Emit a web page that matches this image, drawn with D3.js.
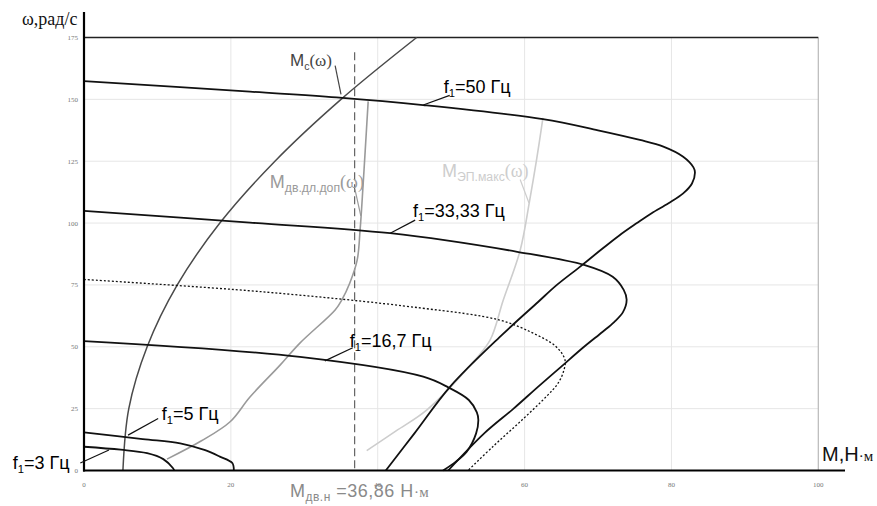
<!DOCTYPE html>
<html>
<head>
<meta charset="utf-8">
<script src="https://cdn.jsdelivr.net/npm/d3@7"></script>
<style>
  body { margin: 0; background: #fff; }
  svg { display: block; }
</style>
</head>
<body>
<svg id="chart" width="877" height="506"></svg>
<script>
// Tick values of both axes
const xTicks = [0, 20, 40, 60, 80, 100];
const yTicks = [0, 25, 50, 75, 100, 125, 150, 175];

// Mechanical characteristics of the motor, points as [M (N·m), ω (rad/s)]
const char50 = [[0,157.4],[22.6,153.1],[34.4,150.8],[46.2,147.7],[62.5,142],[70,137.5],[75.7,133.6],[78.9,130.9],[81.6,126.8],[83,122.5],[83.2,120.5],[82.8,116],[81.6,112],[79.6,108],[77.3,104],[75.3,100],[72.9,95],[69.9,88],[67.4,82],[64.4,75],[61.8,68],[57,55],[49.9,34],[45,15],[41.1,0]];
const char33 = [[0,104.9],[22.6,100.2],[41.7,95.9],[59,88.4],[68.2,83],[72,78.3],[73.5,73],[73.9,69],[73.4,64],[72.2,60],[70.6,56],[68.1,50],[65,42],[61.9,34],[58.5,25],[54.5,15],[49.6,0]];
const char25 = [[0,77.2],[24,72.3],[45.8,65.7],[56.6,60.8],[61.1,55.6],[64.3,50],[65.5,44.7],[65.3,40],[64.5,35],[63,30],[59.5,20],[55.8,10],[52.3,0]];
const char167 = [[0,52.3],[29.4,45.9],[46.2,37.9],[49.6,33.6],[52.4,28.5],[53.5,23.5],[53.7,20.5],[53.4,15],[52.1,7.5],[50.6,3.5],[48.9,0]];
const char5 = [[0,15.4],[8,12.7],[13.1,11],[16.5,8.2],[18.5,5.6],[20.2,3],[20.4,0]];
const char3 = [[0,9.6],[5,8.4],[8.6,7],[10.8,4.6],[12.1,1],[12.3,0]];

// Load torque Mc(ω)
const loadCurve = [[5.3,0],[6.1,25],[8.6,50],[12.7,75],[18.5,100],[26,125],[35,150],[45.3,175]];
// Permissible long-term motor torque Mдв.дл.доп(ω)
const motorPermissible = [[11.3,4.6],[16,12],[19.9,19.7],[22.6,29.7],[26.7,42.6],[29.4,51.5],[34.2,64.9],[35.1,68.9],[36.2,75.8],[37.2,85],[37.6,97.2],[38,115],[38.3,129.5],[38.7,149.2]];
// Maximum drive torque MЭП.макс(ω)
const driveMax = [[38.5,8],[42.5,16],[46.7,24.5],[53,43.9],[55.3,52.7],[57.1,68.9],[59.4,89],[60.7,109.3],[61.6,125],[62.5,142.5]];

// Rated motor torque
const ratedTorque = 36.86;

const svg = d3.select("#chart");
const x = d3.scaleLinear().domain([0, 100]).range([84, 818.3]);
const y = d3.scaleLinear().domain([0, 175]).range([470.5, 37.5]);

// Grid
svg.append("g").selectAll("line").data(xTicks.slice(1, -1)).join("line")
  .attr("x1", d => x(d)).attr("x2", d => x(d))
  .attr("y1", y(175)).attr("y2", y(0))
  .attr("stroke", "#e6e6e6").attr("stroke-width", 1);
svg.append("g").selectAll("line").data(yTicks.slice(1, -1)).join("line")
  .attr("x1", x(0)).attr("x2", x(100))
  .attr("y1", d => y(d)).attr("y2", d => y(d))
  .attr("stroke", "#e6e6e6").attr("stroke-width", 1);

// Frame: right edge and top edge
svg.append("line").attr("x1", x(100)).attr("x2", x(100)).attr("y1", y(175)).attr("y2", y(0))
  .attr("stroke", "#b8b8b8").attr("stroke-width", 1.2);
svg.append("line").attr("x1", x(0)).attr("x2", x(100)).attr("y1", y(175)).attr("y2", y(175))
  .attr("stroke", "#222").attr("stroke-width", 1.3);

// Tick labels
svg.append("g").selectAll("text").data(xTicks).join("text")
  .attr("x", d => x(d)).attr("y", 487)
  .attr("text-anchor", "middle")
  .attr("font-family", "Liberation Serif, serif").attr("font-size", 7).attr("fill", "#777")
  .text(d => d);
svg.append("g").selectAll("text").data(yTicks).join("text")
  .attr("x", 78).attr("y", d => y(d) + 2.5)
  .attr("text-anchor", "end")
  .attr("font-family", "Liberation Serif, serif").attr("font-size", 7).attr("fill", "#777")
  .text(d => d);

const line = d3.line().x(d => x(d[0])).y(d => y(d[1])).curve(d3.curveCatmullRom.alpha(0.5));

// Rated torque marker
svg.append("line")
  .attr("x1", x(ratedTorque)).attr("x2", x(ratedTorque))
  .attr("y1", y(169)).attr("y2", y(0))
  .attr("stroke", "#555").attr("stroke-width", 1.1).attr("stroke-dasharray", "8,4");

// Auxiliary curves
svg.append("path").attr("d", line(driveMax)).attr("fill", "none")
  .attr("stroke", "#cdcdcd").attr("stroke-width", 1.6);
svg.append("path").attr("d", line(motorPermissible)).attr("fill", "none")
  .attr("stroke", "#9a9a9a").attr("stroke-width", 1.6);
svg.append("path").attr("d", line(loadCurve)).attr("fill", "none")
  .attr("stroke", "#4a4a4a").attr("stroke-width", 1.5);

// Motor characteristics
[char50, char33, char167, char5, char3].forEach(c => {
  svg.append("path").attr("d", line(c)).attr("fill", "none")
    .attr("stroke", "#111").attr("stroke-width", 1.8);
});
svg.append("path").attr("d", line(char25)).attr("fill", "none")
  .attr("stroke", "#111").attr("stroke-width", 1.3).attr("stroke-dasharray", "2,2");

// Axes
svg.append("line").attr("x1", x(0)).attr("x2", x(0)).attr("y1", 12).attr("y2", y(0) + 1)
  .attr("stroke", "#000").attr("stroke-width", 2.2);
svg.append("line").attr("x1", x(0) - 1).attr("x2", 845).attr("y1", y(0)).attr("y2", y(0))
  .attr("stroke", "#000").attr("stroke-width", 2.2);

// Axis titles
svg.append("text").attr("x", 22).attr("y", 25)
  .attr("font-family", "Liberation Serif, serif").attr("font-size", 18).attr("fill", "#111")
  .text("ω,рад/с");
const mt = svg.append("text").attr("x", 822).attr("y", 461)
  .attr("font-family", "Liberation Sans, Arial, sans-serif").attr("font-size", 20).attr("fill", "#111");
mt.append("tspan").text("M,H");
mt.append("tspan").attr("font-family", "Liberation Serif, serif").attr("font-size", 15).text("·м");

// Annotations with leader lines
function leader(a, b, color) {
  svg.append("line")
    .attr("x1", x(a[0])).attr("y1", y(a[1])).attr("x2", x(b[0])).attr("y2", y(b[1]))
    .attr("stroke", color).attr("stroke-width", 1.2);
}
function freqLabel(pos, value, size) {
  const t = svg.append("text").attr("x", x(pos[0])).attr("y", y(pos[1]))
    .attr("font-family", "Liberation Sans, Arial, sans-serif").attr("font-size", size).attr("fill", "#000");
  t.append("tspan").text("f");
  t.append("tspan").attr("font-size", size * 0.62).attr("dy", 4).text("1");
  t.append("tspan").attr("dy", -4).text("=" + value + " Гц");
}
freqLabel([49.0, 152.6], "50", 18);
leader([49.8, 151.6], [46.2, 147.7], "#111");
freqLabel([44.8, 102.6], "33,33", 18);
leader([45.1, 101.2], [41.7, 95.9], "#111");
freqLabel([36.2, 49.9], "16,7", 18);
leader([36.6, 49.6], [32.8, 44.3], "#111");
freqLabel([10.6, 20.4], "5", 18);
leader([10.1, 21.0], [6.0, 14.3], "#111");
freqLabel([-9.7, 0.6], "3", 18);
leader([-0.5, 3.0], [3.4, 8.3], "#111");

function torqueLabel(pos, sub, color, size, subScale) {
  const t = svg.append("text").attr("x", x(pos[0])).attr("y", y(pos[1]))
    .attr("font-family", "Liberation Sans, Arial, sans-serif").attr("font-size", size).attr("fill", color);
  t.append("tspan").text("M");
  t.append("tspan").attr("font-size", size * subScale).attr("dy", 4).text(sub);
  t.append("tspan").attr("dy", -4).attr("font-family", "Liberation Serif, serif").text("(ω)");
}
torqueLabel([28.05, 163.5], "c", "#444", 17, 0.62);
leader([34.2, 163.6], [35.0, 152.0], "#444");
torqueLabel([25.3, 114.2], "дв.дл.доп", "#9a9a9a", 18, 0.68);
leader([36.9, 113.6], [37.7, 102.9], "#9a9a9a");
torqueLabel([48.75, 118.6], "ЭП.макс", "#cdcdcd", 18, 0.68);
leader([59.4, 117.6], [60.6, 108.1], "#cdcdcd");

// Rated torque caption
const rt = svg.append("text").attr("x", x(28.05)).attr("y", y(-10.8))
  .attr("font-family", "Liberation Sans, Arial, sans-serif").attr("font-size", 18)
  .attr("letter-spacing", 0.5).attr("fill", "#8a8a8a");
rt.append("tspan").text("M");
rt.append("tspan").attr("font-size", 12).attr("dy", 4).text("дв.н");
rt.append("tspan").attr("dy", -4).text(" =" + String(ratedTorque).replace(".", ",") + " H");
rt.append("tspan").attr("font-family", "Liberation Serif, serif").attr("font-size", 15).text("·м");
</script>
</body>
</html>
